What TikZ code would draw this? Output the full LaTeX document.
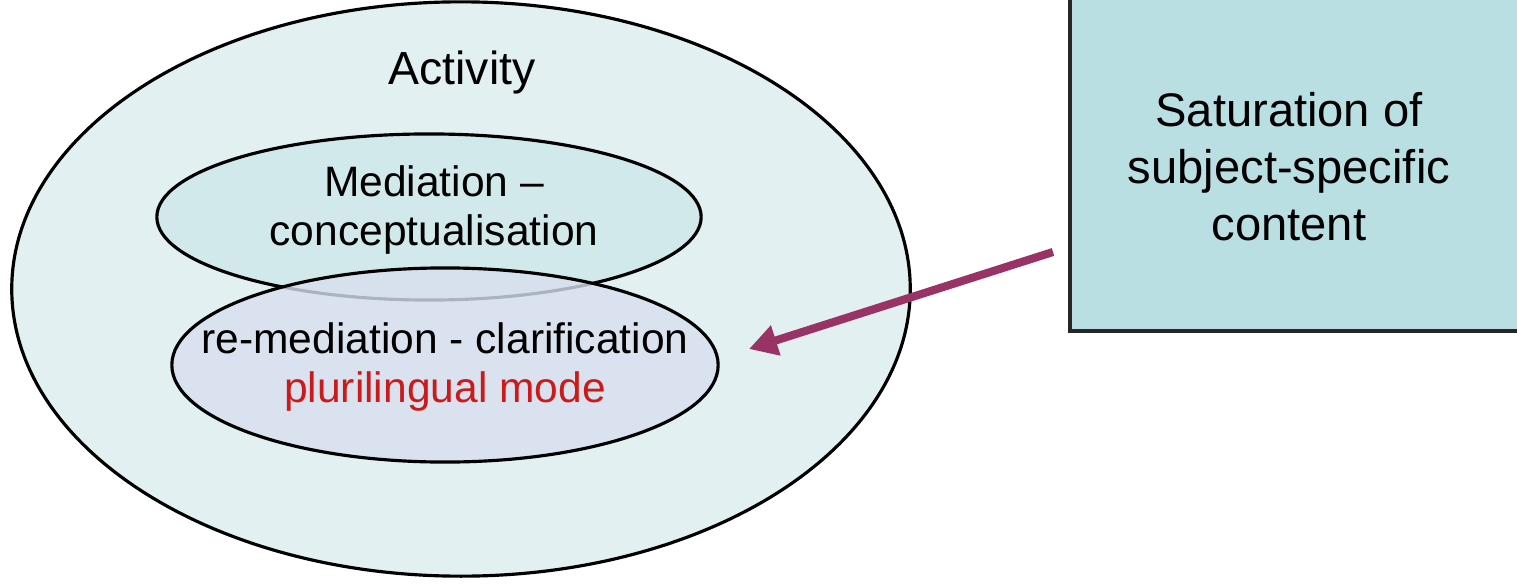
\documentclass[tikz,border=0pt]{standalone}
\usepackage{fontspec}
\setmainfont{Liberation Sans}
\usetikzlibrary{shapes.geometric,arrows.meta}
\definecolor{outerfill}{HTML}{E2F0F1}
\definecolor{topfill}{HTML}{D2E9EB}
\definecolor{lowfill}{HTML}{D9DFEF}
\definecolor{boxfill}{HTML}{B9DFE3}
\definecolor{plum}{HTML}{993366}
\definecolor{modered}{HTML}{CC1A1A}
\tikzset{
  ring/.style={ellipse, draw=black, line width=0.9pt, inner sep=0pt},
  label/.style={font=\fontsize{12.1}{14.2}\selectfont, align=center, text=black},
  sourcebox/.style={rectangle, draw=black!85, line width=1pt, fill=boxfill, inner sep=0pt},
  push/.style={draw=plum, line width=2.3pt, -{Triangle[length=8pt,width=8.5pt]}}
}
\begin{document}
\begin{tikzpicture}[x=0.01cm,y=0.01cm]
  \useasboundingbox (0,0) rectangle (1517,587);
  \clip (0,0) rectangle (1517,587);
  % outer activity ellipse
  \node[ring, fill=outerfill, minimum width=8.98cm, minimum height=5.74cm] (activity) at (461,298) {};
  % mediation ellipse
  \node[ring, fill=topfill, minimum width=5.44cm, minimum height=1.66cm] (mediation) at (429,370) {};
  % re-mediation ellipse, laid over the mediation ellipse
  \node[ring, fill=lowfill, fill opacity=0.8, minimum width=5.46cm, minimum height=1.94cm] (remediation) at (445,222) {};
  % texts
  \node[label, font=\fontsize{13.2}{15}\selectfont] (activitytxt) at (462,515) {Activity};
  \node[label] (mediationtxt) at (434,377) {Mediation --\\conceptualisation};
  \node[label] (remediationtxt) at (445,220) {re-mediation - clarification\\\textcolor{modered}{plurilingual mode}};
  % source box on the right, running past the page edges
  \node[sourcebox, minimum width=5cm, minimum height=4cm, anchor=south west] (source) at (1068,254) {};
  \node[label, font=\fontsize{13.4}{16.2}\selectfont] (sourcetxt) at (1289,420) {Saturation of\\subject-specific\\content};
  \coordinate (tail) at (1053,335);
  \coordinate (tip) at (749,238);
  \draw[push] (tail) -- (tip);
\end{tikzpicture}
\end{document}
